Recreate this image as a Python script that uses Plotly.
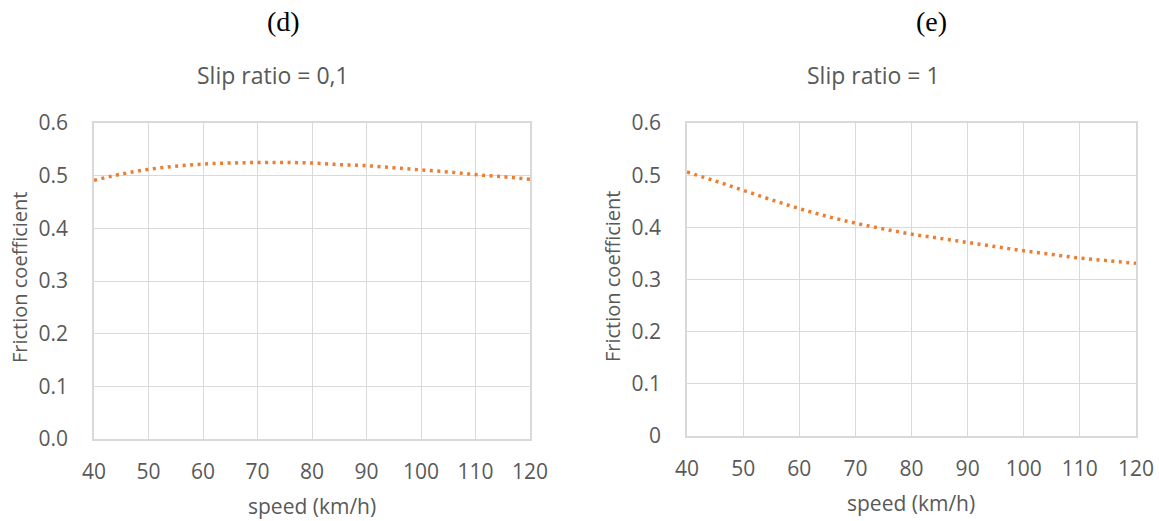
import plotly.graph_objects as go

speed = [40, 45, 50, 55, 60, 65, 70, 75, 80, 85, 90, 95, 100, 105, 110, 115, 120]
mu_slip_01 = [0.491, 0.503, 0.512, 0.518, 0.522, 0.524, 0.525, 0.525, 0.524, 0.521, 0.519, 0.515, 0.511, 0.507, 0.502, 0.498, 0.493]
mu_slip_1 = [0.506, 0.489, 0.471, 0.453, 0.436, 0.421, 0.408, 0.397, 0.387, 0.379, 0.371, 0.363, 0.355, 0.348, 0.341, 0.336, 0.331]
x_ticks = [40, 50, 60, 70, 80, 90, 100, 110, 120]
y_ticks = [0, 0.1, 0.2, 0.3, 0.4, 0.5, 0.6]
panel_labels = ["(d)", "(e)"]
titles = ["Slip ratio = 0,1", "Slip ratio = 1"]
x_title = "speed (km/h)"
y_title = "Friction coefficient"

ORANGE = "#ED7D31"
GRID = "#D9D9D9"
TXT = "#595959"
FONT = "Open Sans, Liberation Sans, sans-serif"
SERIF = "Liberation Serif, Times New Roman, serif"

W, H = 1159, 521


def px(x):
    return x / W


def py(y):
    return 1 - y / H


L_dom = [px(94), px(530)]
R_dom = [px(687), px(1136)]
L_y = [py(439), py(123)]
R_y = [py(436), py(123)]

fig = go.Figure()
line_style = dict(color=ORANGE, width=3.5, dash="3px,4.5px", shape="spline")
fig.add_trace(go.Scatter(x=speed, y=mu_slip_01, mode="lines", line=line_style,
                         xaxis="x", yaxis="y", showlegend=False, hoverinfo="x+y"))
fig.add_trace(go.Scatter(x=speed, y=mu_slip_1, mode="lines", line=line_style,
                         xaxis="x2", yaxis="y2", showlegend=False, hoverinfo="x+y"))


def xax(dom, anchor):
    return dict(domain=dom, anchor=anchor, range=[40, 120], tickvals=x_ticks, showgrid=True, gridcolor=GRID,
                gridwidth=1.3, showline=True, linecolor=GRID, linewidth=1.5, mirror=True, zeroline=False,
                ticks="", ticklabelstandoff=13, automargin=False,
                tickfont=dict(family=FONT, size=21, color=TXT))


def yax(dom, anchor, fmt):
    return dict(domain=dom, anchor=anchor, range=[0, 0.6], tickvals=y_ticks, tickformat=fmt, showgrid=True,
                gridcolor=GRID, gridwidth=1.3, showline=True, linecolor=GRID, linewidth=1.5, mirror=True,
                zeroline=False, ticks="", ticklabelstandoff=20, automargin=False,
                tickfont=dict(family=FONT, size=21, color=TXT))


fig.update_layout(
    width=W, height=H, margin=dict(l=0, r=0, t=0, b=0),
    paper_bgcolor="white", plot_bgcolor="white",
    xaxis=xax(L_dom, "y"), yaxis=yax(L_y, "x", ".1f"),
    xaxis2=xax(R_dom, "y2"), yaxis2=yax(R_y, "x2", ""),
)

label_x = [283, 931]
title_x = [273, 873]
for lx, tx, lab, t in zip(label_x, title_x, panel_labels, titles):
    fig.add_annotation(x=px(lx), y=py(22), xref="paper", yref="paper", text=lab, showarrow=False,
                       xanchor="center", yanchor="middle",
                       font=dict(family=SERIF, size=28, color="black"))
    fig.add_annotation(x=px(tx), y=py(75), xref="paper", yref="paper", text=t, showarrow=False,
                       xanchor="center", yanchor="middle",
                       font=dict(family=FONT, size=23, color=TXT))

# axis titles
for cx, cy in [((L_dom[0] + L_dom[1]) / 2, py(506)), ((R_dom[0] + R_dom[1]) / 2, py(503))]:
    fig.add_annotation(x=cx, y=cy, xref="paper", yref="paper", text=x_title, showarrow=False,
                       xanchor="center", yanchor="middle", font=dict(family=FONT, size=21, color=TXT))
for cx, cy in [(px(19), py(278)), (px(612), py(277))]:
    fig.add_annotation(x=cx, y=cy, xref="paper", yref="paper", text=y_title, showarrow=False, textangle=-90,
                       xanchor="center", yanchor="middle", font=dict(family=FONT, size=20, color=TXT))

fig.write_html("out.html", config={"displayModeBar": False},
               post_script="document.body.style.margin='0';document.body.style.overflow='hidden';")
